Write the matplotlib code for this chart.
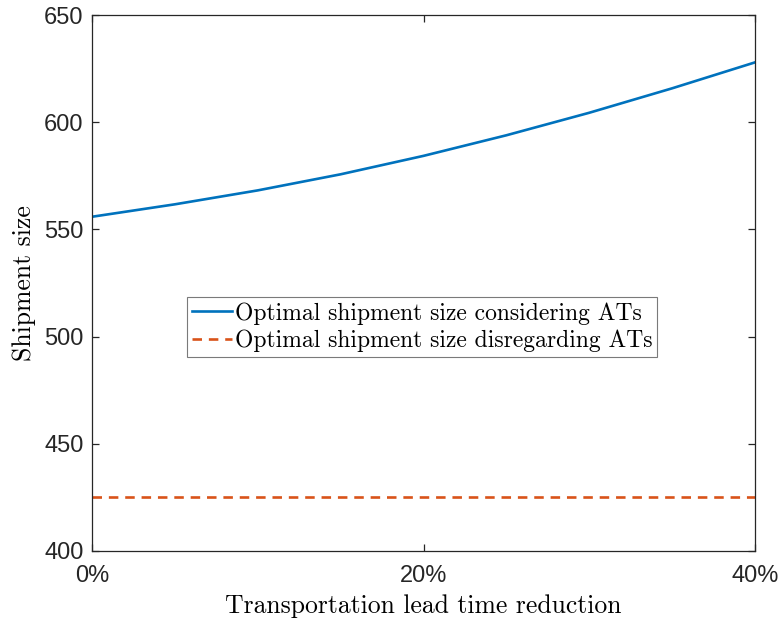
import numpy as np
import matplotlib
matplotlib.use("Agg")
import matplotlib.pyplot as plt
from matplotlib.ticker import FuncFormatter

# lead time reduction (%) and shipment sizes
reduction = [0, 5, 10, 15, 20, 25, 30, 35, 40]
size_with_ats = [555.9, 561.7, 568.2, 575.7, 584.3, 593.9, 604.4, 615.8, 627.9]
size_without_ats = [425.0] * len(reduction)

labels = ["Optimal shipment size considering ATs",
          "Optimal shipment size disregarding ATs"]
xticks = [0, 20, 40]
yticks = [400, 450, 500, 550, 600, 650]

BLUE = "#0072BD"
ORANGE = "#D95319"
DARK = "#262626"

fig = plt.figure(figsize=(7.78, 6.2), dpi=100)
ax = fig.add_axes([0.1183, 0.1113, 0.8521, 0.8645])

ax.plot(reduction, size_with_ats, color=BLUE, lw=1.9, label=labels[0])
ax.plot(reduction, size_without_ats, color=ORANGE, lw=1.9,
        linestyle=(0, (3.6, 2.6)), label=labels[1])

ax.set_xlim(0, 40)
ax.set_ylim(400, 650)
ax.set_xticks(xticks)
ax.set_yticks(yticks)
ax.xaxis.set_major_formatter(FuncFormatter(lambda v, p: "%d%%" % v))

for s in ax.spines.values():
    s.set_color(DARK)
    s.set_linewidth(0.9)
ax.tick_params(direction="in", length=5, width=0.9, color=DARK,
               top=True, right=True, labelsize=17, labelcolor=DARK)
ax.tick_params(axis="x", pad=10)
ax.tick_params(axis="y", pad=6)
for lab in ax.get_xticklabels() + ax.get_yticklabels():
    lab.set_family("Liberation Sans")

ax.set_xlabel("Transportation lead time reduction", family="cmr10",
              fontsize=18.5, labelpad=5)
ax.set_ylabel("Shipment size", family="cmr10", fontsize=18.5, labelpad=6)

leg = ax.legend(loc="center", bbox_to_anchor=(0.498, 0.418),
                prop={"family": "cmr10", "size": 17},
                fancybox=False, framealpha=1, edgecolor="#7a7a7a",
                handlelength=1.7, handletextpad=0.15, borderpad=0.2,
                labelspacing=0.2, borderaxespad=0)
leg.get_frame().set_linewidth(0.8)

fig.savefig("out.png", dpi=100)
